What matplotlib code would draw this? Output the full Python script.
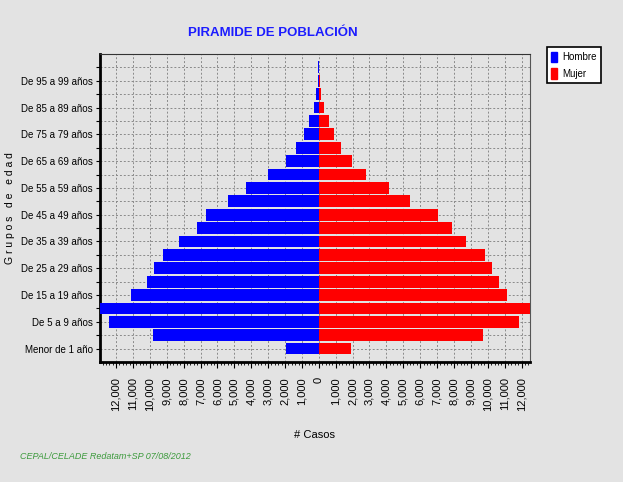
import numpy as np
from matplotlib import pyplot as plt
from matplotlib.ticker import MultipleLocator, FuncFormatter
from matplotlib.patches import Patch

# grupos de edad (de abajo hacia arriba)
grupos = ['Menor de 1 año', 'De 1 a 4 años', 'De 5 a 9 años', 'De 10 a 14 años',
          'De 15 a 19 años', 'De 20 a 24 años', 'De 25 a 29 años', 'De 30 a 34 años',
          'De 35 a 39 años', 'De 40 a 44 años', 'De 45 a 49 años', 'De 50 a 54 años',
          'De 55 a 59 años', 'De 60 a 64 años', 'De 65 a 69 años', 'De 70 a 74 años',
          'De 75 a 79 años', 'De 80 a 84 años', 'De 85 a 89 años', 'De 90 a 94 años',
          'De 95 a 99 años', 'De 100 años y más']
hombre = [1950, 9840, 12400, 13000, 11140, 10140, 9740, 9210, 8280, 7200, 6650, 5400,
          4320, 2980, 1970, 1360, 890, 570, 300, 140, 70, 20]
mujer = [1930, 9690, 11830, 12600, 11120, 10650, 10260, 9860, 8720, 7870, 7060, 5400,
         4140, 2780, 1970, 1340, 890, 590, 300, 140, 50, 30]

fnt = 'Liberation Sans'
bg = '#e3e3e3'

fig = plt.figure(figsize=(6.23, 4.82), dpi=100, facecolor=bg)
ax = fig.add_axes([0.1605, 0.249, 0.6902, 0.639])
ax.set_facecolor(bg)

y = np.arange(len(grupos))
ax.barh(y, [-v for v in hombre], height=0.88, color='#0000ff', zorder=3)
ax.barh(y, mujer, height=0.88, color='#ff0000', zorder=3)

ax.set_xlim(-12950, 12500)
ax.set_ylim(-1, len(grupos))

# ejes
ax.xaxis.set_major_locator(MultipleLocator(1000))
ax.xaxis.set_minor_locator(MultipleLocator(200))
ax.xaxis.set_major_formatter(FuncFormatter(lambda v, p: '{:,}'.format(int(abs(round(v))))))
ax.tick_params(axis='x', which='major', length=4, labelsize=8, labelrotation=90, pad=7)
ax.tick_params(axis='x', which='minor', length=2)
for lb in ax.get_xticklabels():
    lb.set_fontfamily(fnt)
    lb.set_va('top')
ax.set_yticks(y)
ax.set_yticklabels([g if i % 2 == 0 else '' for i, g in enumerate(grupos)],
                   fontfamily=fnt, fontsize=7)
ax.tick_params(axis='y', length=3, pad=2)

ax.grid(True, which='major', color='#8a8a8a', linestyle=(0, (2, 2)), linewidth=0.7, zorder=0)

ax.spines['left'].set_linewidth(2)
ax.spines['bottom'].set_linewidth(2)
ax.spines['top'].set_color('#333333')
ax.spines['right'].set_color('#555555')

ax.set_ylabel('G r u p o s   d e   e d a d', fontfamily=fnt, fontsize=7.5)
ax.yaxis.set_label_coords(-0.197, 0.5)
ax.set_xlabel('# Casos', fontfamily=fnt, fontsize=8)
ax.xaxis.set_label_coords(0.5, -0.22)

fig.text(0.438, 0.932, 'PIRAMIDE DE POBLACIÓN', color='#1c1cff', fontsize=9.5,
         fontweight='bold', fontfamily=fnt, ha='center', va='center')
fig.text(0.032, 0.052, 'CEPAL/CELADE Redatam+SP 07/08/2012', color='#3c9a3c',
         fontsize=6.5, fontstyle='italic', fontfamily=fnt, ha='left', va='center')

handles = [Patch(color='#0000ff', label='Hombre'), Patch(color='#ff0000', label='Mujer')]
leg = fig.legend(handles=handles, loc='upper left', bbox_to_anchor=(0.878, 0.902),
                 prop={'family': fnt, 'size': 7}, fancybox=False, framealpha=1,
                 edgecolor='black', handlelength=0.6, handleheight=1.3, handletextpad=0.5,
                 borderpad=0.45, labelspacing=0.6, borderaxespad=0)
leg.get_frame().set_linewidth(1.2)

plt.savefig('out.png', dpi=100, facecolor=bg)
